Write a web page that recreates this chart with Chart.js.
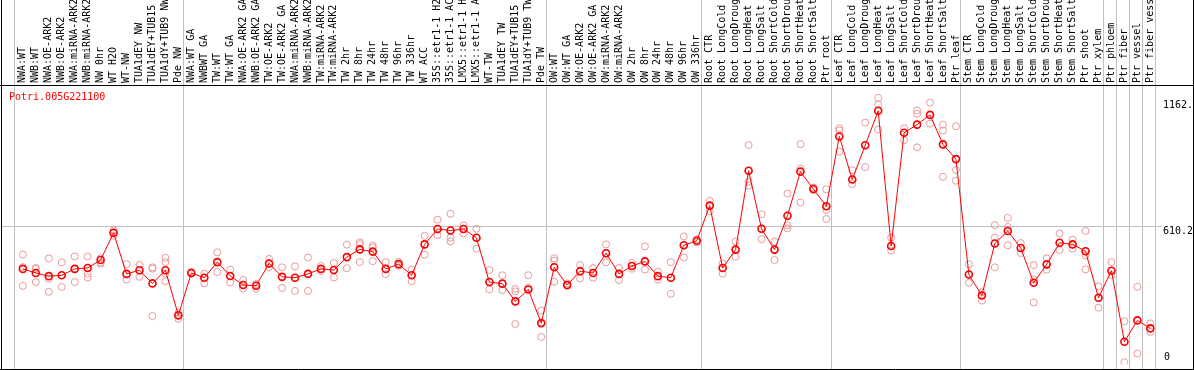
<!DOCTYPE html>
<html>
<head>
<meta charset="utf-8">
<script src="https://cdn.jsdelivr.net/npm/chart.js@4.4.1/dist/chart.umd.min.js"></script>
<style>
  html, body { margin: 0; padding: 0; background: #fff; }
  #chart { display: block; }
</style>
</head>
<body>
<canvas id="chart" width="1194" height="370"></canvas>
<script>
const geneName = "Potri.005G221100"

const categories = ["NWA:WT","NWB:WT","NWA:OE-ARK2","NWB:OE-ARK2","NWA:miRNA-ARK2","NWB:miRNA-ARK2","NW 0hr","WT H2O","WT-NW","TUA1dEY NW","TUA1dEY+TUB15 NW","TUA1dY+TUB9 NW","Pde NW",
  "NWA:WT GA","NWBWT GA","TW:WT","TW:WT GA","NWA:OE-ARK2 GA","NWB:OE-ARK2 GA","TW:OE-ARK2","TW:OE-ARK2 GA","NWA:miRNA-ARK2","NWB:miRNA-ARK2","TW:miRNA-ARK2","TW:miRNA-ARK2","TW 2hr","TW 8hr","TW 24hr","TW 48hr","TW 96hr","TW 336hr","WT ACC","35S::etr1-1 H2O","35S::etr1-1 ACC","LMX5::etr1-1 H2O","LMX5::etr1-1 ACC","WT-TW","TUA1dEY TW","TUA1dEY+TUB15 TW","TUA1dY+TUB9 TW","Pde TW",
  "OW:WT","OW:WT GA","OW:OE-ARK2","OW:OE-ARK2 GA","OW:miRNA-ARK2","OW:miRNA-ARK2","OW 2hr","OW 8hr","OW 24hr","OW 48hr","OW 96hr","OW 336hr",
  "Root CTR","Root LongCold","Root LongDrought","Root LongHeat","Root LongSalt","Root ShortCold","Root ShortDrought","Root ShortHeat","Root ShortSalt","Ptr root",
  "Leaf CTR","Leaf LongCold","Leaf LongDrought","Leaf LongHeat","Leaf LongSalt","Leaf ShortCold","Leaf ShortDrought","Leaf ShortHeat","Leaf ShortSalt","Ptr leaf",
  "Stem CTR","Stem LongCold","Stem LongDrought","Stem LongHeat","Stem LongSalt","Stem ShortCold","Stem ShortDrought","Stem ShortHeat","Stem ShortSalt","Ptr shoot","Ptr xylem",
  "Ptr phloem","Ptr fiber","Ptr vessel","Ptr fiber vessel"]

// first index of each sample group (last entry = end)
const groupStarts = [0, 13, 41, 53, 63, 73, 84, 85, 86, 87, 88]

const means = [421,403,389,393,421,425,460,580,399,415,357,415,217,
  403,382,451,390,350,347,445,386,382,399,421,416,473,507,497,421,442,393,529,597,590,597,558,363,356,278,330,182,
  428,350,411,403,490,399,434,454,389,382,525,545,
  700,425,506,854,598,506,655,850,773,697,
  1005,815,966,1118,522,1021,1057,1100,970,905,
  396,304,533,588,513,360,441,536,529,499,294,
  413,100,194,159]

const rep1 = [484,425,467,450,476,476,468,591,442,439,428,470,227,
  408,400,494,418,372,354,465,428,432,471,434,447,528,538,523,451,452,418,567,638,664,613,598,416,393,333,393,237,
  468,357,438,425,529,425,447,520,408,451,564,552,
  721,444,542,967,662,542,753,971,779,772,
  1041,856,1066,1175,559,1041,1120,1154,1057,1050,
  441,318,614,646,535,438,468,577,550,588,344,
  451,190,342,181]

const rep2 = [429,421,377,393,421,400,448,580,399,415,422,451,213,
  400,382,451,390,350,347,445,386,382,399,421,416,473,530,515,421,442,393,529,597,590,597,558,363,356,322,338,182,
  458,346,411,403,490,399,434,454,389,382,525,545,
  700,425,506,854,598,506,655,863,773,697,
  1031,815,966,1145,522,1021,1105,1100,1031,905,
  396,304,559,606,513,374,441,536,529,499,294,
  413,100,194,159]

const rep3 = [346,363,320,341,363,383,444,567,374,386,213,400,201,
  403,357,407,361,334,334,428,337,324,324,411,383,424,507,497,398,434,367,484,570,559,578,510,331,328,178,330,121,
  428,350,379,382,450,372,422,418,374,311,471,538,
  675,400,475,805,552,460,613,714,768,681,
  1005,795,870,1118,502,988,1057,1061,970,857,
  360,281,533,588,491,360,418,504,510,480,250,
  393,10,48,143]

const rep4 = [null,null,null,null,null,null,null,null,null,null,null,367,null,
  null,null,null,null,null,null,null,null,null,null,null,null,null,451,455,null,null,null,null,null,542,null,null,null,null,null,null,null,
  364,null,null,null,null,null,null,null,null,null,null,null,
  null,null,null,788,null,null,600,null,null,641,
  938,null,null,1035,null,null,957,null,827,810,
  null,null,428,525,null,273,null,null,null,419,null,
  null,null,null,null]

const yTicks = [0, 610.2, 1162]
const yTickLabels = ["0", "610.2", "1162."]

const mono = "10px 'DejaVu Sans Mono', monospace"

function toPoints(arr) {
  return arr.map((v, i) => ({ x: i, y: v })).filter(p => p.y !== null)
}

function repSet(arr) {
  return {
    type: "scatter",
    data: toPoints(arr),
    showLine: false,
    pointStyle: "circle",
    pointRadius: 3.5,
    pointBorderWidth: 1,
    pointBorderColor: "#eb9a9a",
    pointBackgroundColor: "rgba(0,0,0,0)"
  }
}

const framePlugin = {
  id: "frame",
  beforeDraw(chart) {
    const ctx = chart.ctx
    const xs = chart.scales.x
    const ys = chart.scales.y
    const W = chart.width
    ctx.save()
    ctx.fillStyle = "#fff"
    ctx.fillRect(0, 0, W, chart.height)

    // group separators
    ctx.strokeStyle = "#c0c0c0"
    ctx.lineWidth = 1
    groupStarts.forEach(s => {
      const x = Math.round(xs.getPixelForValue(s - 0.66)) + 0.5
      ctx.beginPath()
      ctx.moveTo(x, 0)
      ctx.lineTo(x, 369)
      ctx.stroke()
    })
    // horizontal grid at middle tick
    const gy = Math.round(ys.getPixelForValue(yTicks[1])) + 0.5
    ctx.beginPath()
    ctx.moveTo(2, gy)
    ctx.lineTo(1162, gy)
    ctx.stroke()

    // black frame
    ctx.strokeStyle = "#000"
    ctx.beginPath()
    ctx.moveTo(0, 85.5); ctx.lineTo(W, 85.5)
    ctx.moveTo(1.5, 0); ctx.lineTo(1.5, 370)
    ctx.moveTo(1193.5, 0); ctx.lineTo(1193.5, 370)
    ctx.moveTo(0, 369.5); ctx.lineTo(W, 369.5)
    ctx.stroke()

    // rotated sample labels
    ctx.font = mono
    ctx.fillStyle = "#000"
    ctx.textBaseline = "middle"
    ctx.textAlign = "left"
    categories.forEach((c, i) => {
      ctx.save()
      ctx.translate(xs.getPixelForValue(i), 83)
      ctx.rotate(-Math.PI / 2)
      ctx.fillText(c, 0, 0)
      ctx.restore()
    })

    // gene name
    ctx.fillStyle = "#ff0000"
    ctx.fillText(geneName, 9, 97)

    // value labels on the right: bottom one sits above its line, others below
    ctx.fillStyle = "#000"
    yTicks.forEach((v, k) => {
      const py = ys.getPixelForValue(v)
      const t = yTickLabels[k]
      ctx.fillText(t, t.length > 1 ? 1163 : 1164, k === 0 ? py - 7 : py + 5)
    })
    ctx.restore()
  }
}

new Chart(document.getElementById("chart"), {
  type: "line",
  data: {
    datasets: [
      {
        data: toPoints(means),
        borderColor: "#ff0000",
        borderWidth: 1,
        fill: false,
        tension: 0,
        pointStyle: "circle",
        pointRadius: 3.5,
        pointBorderWidth: 1.6,
        pointBorderColor: "#ff0000",
        pointBackgroundColor: "rgba(0,0,0,0)"
      },
      repSet(rep1),
      repSet(rep2),
      repSet(rep3),
      repSet(rep4)
    ]
  },
  options: {
    responsive: false,
    devicePixelRatio: 1,
    animation: false,
    layout: { padding: { left: 2, right: 32, top: 86, bottom: 1 } },
    scales: {
      x: { type: "linear", min: -1.331, max: 87.9, display: false },
      y: { type: "linear", min: 0, max: 1227.3, display: false }
    },
    plugins: {
      legend: { display: false },
      tooltip: { enabled: false }
    }
  },
  plugins: [framePlugin]
})
</script>
</body>
</html>
